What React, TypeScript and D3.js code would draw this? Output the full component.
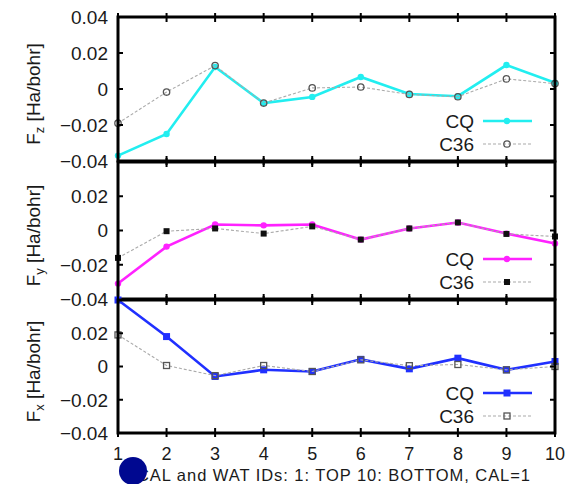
import React from 'react';
import * as d3 from 'd3';

const ids = [1, 2, 3, 4, 5, 6, 7, 8, 9, 10];
const yTicks = [-0.04, -0.02, 0, 0.02, 0.04];

const fzCQ = [-0.037, -0.025, 0.0122, -0.0078, -0.0044, 0.0067, -0.0028, -0.004, 0.0133, 0.0035];
const fzC36 = [-0.019, -0.0017, 0.013, -0.0078, 0.0006, 0.0011, -0.003, -0.0043, 0.0056, 0.003];
const fyCQ = [-0.031, -0.0094, 0.0035, 0.003, 0.0035, -0.0053, 0.0012, 0.0047, -0.0018, -0.0076];
const fyC36 = [-0.016, -0.0004, 0.0012, -0.0018, 0.0024, -0.0053, 0.0012, 0.0047, -0.002, -0.0035];
const fxCQ = [0.04, 0.018, -0.006, -0.002, -0.003, 0.0043, -0.0014, 0.005, -0.002, 0.003];
const fxC36 = [0.019, 0.0006, -0.0055, 0.0006, -0.003, 0.004, 0.0005, 0.0012, -0.002, 0.0];

const caption = 'CAL and WAT IDs: 1: TOP 10: BOTTOM, CAL=1';
const font = '"Liberation Sans", Arial, sans-serif';
const ink = '#1a1a1a';

type Panel = {
  sub: string;
  cq: number[];
  c36: number[];
  color: string;
  cqMark: 'circle' | 'square';
  c36Mark: 'openCircle' | 'filledSquare' | 'openSquare';
  top: number;
  bottom: number;
};

const panels: Panel[] = [
  { sub: 'z', cq: fzCQ, c36: fzC36, color: '#22eef0', cqMark: 'circle', c36Mark: 'openCircle', top: 17, bottom: 161 },
  { sub: 'y', cq: fyCQ, c36: fyC36, color: '#ff22ff', cqMark: 'circle', c36Mark: 'filledSquare', top: 162, bottom: 299 },
  { sub: 'x', cq: fxCQ, c36: fxC36, color: '#2030ff', cqMark: 'square', c36Mark: 'openSquare', top: 300, bottom: 433 },
];

const left = 118;
const right = 555;
const x = d3.scaleLinear().domain([1, 10]).range([left, right]);

function Marker({ kind, cx, cy, color }: { kind: string; cx: number; cy: number; color: string }) {
  if (kind === 'circle') return <circle cx={cx} cy={cy} r={3.2} fill={color} />;
  if (kind === 'square') return <rect x={cx - 3.5} y={cy - 3.5} width={7} height={7} fill={color} />;
  if (kind === 'openCircle') return <circle cx={cx} cy={cy} r={3.2} fill="none" stroke="#555" strokeWidth={1.3} />;
  if (kind === 'filledSquare') return <rect x={cx - 3} y={cy - 3} width={6} height={6} fill="#111" />;
  return <rect x={cx - 3} y={cy - 3} width={6} height={6} fill="none" stroke="#555" strokeWidth={1.3} />;
}

function PanelView({ p, idx }: { p: Panel; idx: number }) {
  const y = d3.scaleLinear().domain([-0.04, 0.04]).range([p.bottom, p.top]);
  const line = d3.line<number>().x((_, i) => x(ids[i])).y(d => y(d));
  const legY1 = p.bottom - 40;
  const legY2 = p.bottom - 17;
  return (
    <g>
      <path d={line(p.cq) || ''} fill="none" stroke={p.color} strokeWidth={2.6} />
      {p.cq.map((v, i) => <Marker key={'a' + i} kind={p.cqMark} cx={x(ids[i])} cy={y(v)} color={p.color} />)}
      <path d={line(p.c36) || ''} fill="none" stroke="#aaa" strokeWidth={1.1} strokeDasharray="3,2" />
      {p.c36.map((v, i) => <Marker key={'b' + i} kind={p.c36Mark} cx={x(ids[i])} cy={y(v)} color="#555" />)}

      {/* legend */}
      <text x={474} y={legY1} dy="0.36em" textAnchor="end" fontSize={19} fontFamily={font} fill={ink}>CQ</text>
      <line x1={483} x2={532} y1={legY1} y2={legY1} stroke={p.color} strokeWidth={2.6} />
      <Marker kind={p.cqMark} cx={507} cy={legY1} color={p.color} />
      <text x={474} y={legY2} dy="0.36em" textAnchor="end" fontSize={19} fontFamily={font} fill={ink}>C36</text>
      <line x1={483} x2={532} y1={legY2} y2={legY2} stroke="#aaa" strokeWidth={1.1} strokeDasharray="3,2" />
      <Marker kind={p.c36Mark} cx={507} cy={legY2} color="#555" />

      {/* ticks */}
      {yTicks.map(t => (
        <g key={'y' + t}>
          <line x1={left} x2={left + 5} y1={y(t)} y2={y(t)} stroke="#000" strokeWidth={2} />
          <line x1={right - 5} x2={right} y1={y(t)} y2={y(t)} stroke="#000" strokeWidth={2} />
          {(idx === 0 || t < 0.04) && (
            <text x={108} y={y(t)} dy="0.36em" textAnchor="end" fontSize={19} fontFamily={font} fill={ink}>
              {t === 0 ? '0' : d3.format('.2f')(t)}
            </text>
          )}
        </g>
      ))}
      {ids.map(t => (
        <g key={'x' + t}>
          <line x1={x(t)} x2={x(t)} y1={p.top - 4} y2={p.top + 5} stroke="#000" strokeWidth={2} />
          <line x1={x(t)} x2={x(t)} y1={p.bottom - 5} y2={p.bottom + 4} stroke="#000" strokeWidth={2} />
        </g>
      ))}
      <rect x={left} y={p.top} width={right - left} height={p.bottom - p.top} fill="none" stroke="#000" strokeWidth={3} />

      {/* y label */}
      <text transform={`translate(40,${(p.top + p.bottom) / 2 + 5}) rotate(-90)`} textAnchor="middle" fontSize={19} fontFamily={font} fill={ink}>
        F<tspan fontSize={13} dy="4">{p.sub}</tspan><tspan dy="-4"> [Ha/bohr]</tspan>
      </text>
    </g>
  );
}

export default function App() {
  return (
    <svg width={577} height={484} style={{ position: 'absolute', left: 0, top: 0, background: '#fff' }}>
      {panels.map((p, i) => <PanelView key={i} p={p} idx={i} />)}
      {ids.map(t => (
        <text key={t} x={x(t)} y={454} dy="0.36em" textAnchor="middle" fontSize={18} fontFamily={font} fill={ink}>{t}</text>
      ))}
      <text x={137} y={480.5} fontSize={16.5} fontFamily={font} fill={ink} textLength={393}>{caption}</text>
      <circle cx={133} cy={471} r={14} fill="#000890" />
    </svg>
  );
}
